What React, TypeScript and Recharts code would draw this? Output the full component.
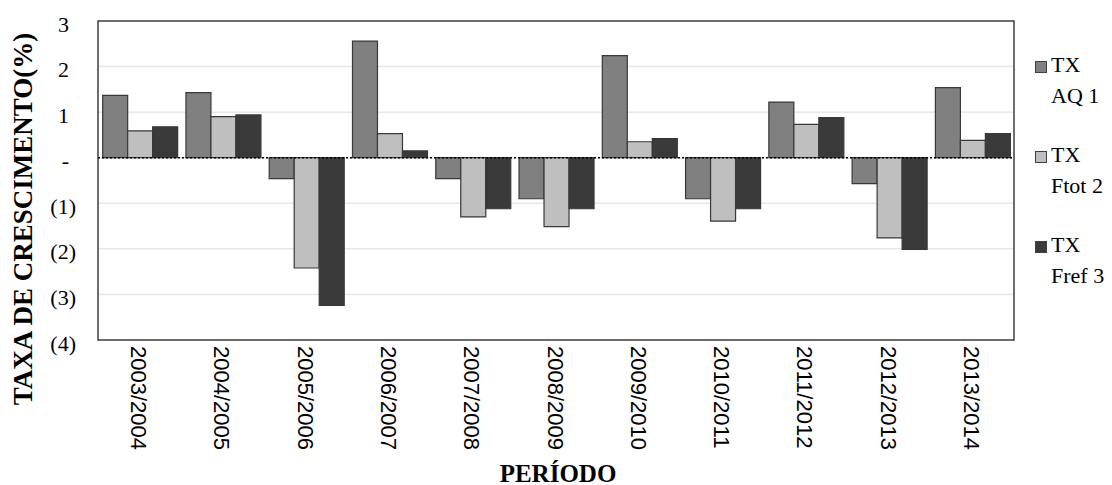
import React from "react";
import {
  BarChart,
  Bar,
  XAxis,
  YAxis,
  CartesianGrid,
  ReferenceLine,
  ReferenceArea,
  Label,
} from "recharts";

const PERIODS = [
  "2003/2004",
  "2004/2005",
  "2005/2006",
  "2006/2007",
  "2007/2008",
  "2008/2009",
  "2009/2010",
  "2010/2011",
  "2011/2012",
  "2012/2013",
  "2013/2014",
];

const TX_AQ1 = [1.37, 1.43, -0.46, 2.56, -0.46, -0.9, 2.24, -0.9, 1.22, -0.57, 1.54];
const TX_FTOT2 = [0.59, 0.9, -2.42, 0.53, -1.3, -1.51, 0.35, -1.39, 0.73, -1.76, 0.38];
const TX_FREF3 = [0.68, 0.94, -3.24, 0.15, -1.12, -1.12, 0.42, -1.12, 0.88, -2.01, 0.53];

const Y_TICKS = [-4, -3, -2, -1, 0, 1, 2, 3];

const SERIES = [
  { key: "aq1", line1: "TX", line2: "AQ 1", color: "#808080" },
  { key: "ftot2", line1: "TX", line2: "Ftot 2", color: "#bfbfbf" },
  { key: "fref3", line1: "TX", line2: "Fref 3", color: "#3a3a3a" },
];

const data = PERIODS.map((p, i) => ({
  period: p,
  aq1: TX_AQ1[i],
  ftot2: TX_FTOT2[i],
  fref3: TX_FREF3[i],
}));

const SERIF = "Liberation Serif, Times New Roman, serif";
const SANS = "Liberation Sans, Arial, sans-serif";

function YTick(props: any) {
  const { x, y, payload } = props;
  const v = payload.value as number;
  const label = v === 0 ? "-" : v < 0 ? `(${-v})` : String(v);
  const shift = v < 0 ? 0 : -7;
  return (
    <text
      x={x + shift}
      y={y + 3}
      textAnchor="end"
      dominantBaseline="central"
      fontFamily={SERIF}
      fontSize={22}
      fill="#000"
    >
      {label}
    </text>
  );
}

function XTick(props: any) {
  const { x, y, payload } = props;
  return (
    <g transform={`translate(${x - 1},${y})`}>
      <text
        transform="rotate(90)"
        x={0}
        y={0}
        textAnchor="start"
        dominantBaseline="central"
        fontFamily={SANS}
        fontSize={22}
        fill="#000"
      >
        {payload.value}
      </text>
    </g>
  );
}

// legend sits to the right of the plot, drawn outside the chart so it takes no plot space
function LegendBox() {
  return (
    <div style={{ position: "absolute", left: 1035, top: 49, width: 80 }}>
      {SERIES.map((s, i) => (
        <div
          key={s.key}
          style={{
            position: "absolute",
            left: 0,
            top: i * 90,
            fontFamily: SERIF,
            fontSize: 22,
            lineHeight: "31px",
            color: "#000",
            whiteSpace: "nowrap",
          }}
        >
          <div style={{ display: "flex", alignItems: "center" }}>
            <span
              style={{
                display: "inline-block",
                width: 10,
                height: 10,
                background: s.color,
                border: "1px solid #404040",
                marginRight: 4,
                marginTop: 5,
              }}
            />
            <span>{s.line1}</span>
          </div>
          <div style={{ paddingLeft: 16 }}>{s.line2}</div>
        </div>
      ))}
    </div>
  );
}

export default function App() {
  return (
    <div style={{ position: "absolute", left: 0, top: 0, width: 1112, height: 485, background: "#fff" }}>
      <BarChart
        width={1112}
        height={485}
        data={data}
        margin={{ top: 21, right: 98, bottom: 0, left: 0 }}
        barCategoryGap="5.6%"
        barGap={0}
      >
        <CartesianGrid horizontal vertical={false} stroke="#e8e8e8" strokeWidth={1.5} />
        <XAxis
          dataKey="period"
          height={145}
          interval={0}
          tick={<XTick />}
          tickLine={false}
          tickSize={0}
          tickMargin={6}
          axisLine={false}
        >
          <Label
            content={() => (
              <text
                x={558}
                y={473}
                textAnchor="middle"
                dominantBaseline="central"
                fontFamily={SERIF}
                fontWeight="bold"
                fontSize={25}
                fill="#000"
              >
                PERÍODO
              </text>
            )}
          />
        </XAxis>
        <YAxis
          width={98}
          domain={[-4, 3]}
          ticks={Y_TICKS}
          interval={0}
          tick={<YTick />}
          tickLine={false}
          tickSize={0}
          tickMargin={22}
          axisLine={false}
        >
          <Label
            content={() => (
              <text
                x={23}
                y={219}
                transform="rotate(-90, 23, 219)"
                textAnchor="middle"
                dominantBaseline="central"
                fontFamily={SERIF}
                fontWeight="bold"
                fontSize={27}
                fill="#000"
              >
                TAXA DE CRESCIMENTO(%)
              </text>
            )}
          />
        </YAxis>
        {SERIES.map((s) => (
          <Bar
            key={s.key}
            dataKey={s.key}
            fill={s.color}
            stroke="#383838"
            strokeWidth={1.2}
            isAnimationActive={false}
          />
        ))}
        <ReferenceLine y={0} stroke="#000" strokeWidth={1.5} strokeDasharray="2 2" />
        <ReferenceArea y1={-4} y2={3} fill="none" stroke="#404040" strokeWidth={1.5} ifOverflow="visible" />
      </BarChart>
      <LegendBox />
    </div>
  );
}
